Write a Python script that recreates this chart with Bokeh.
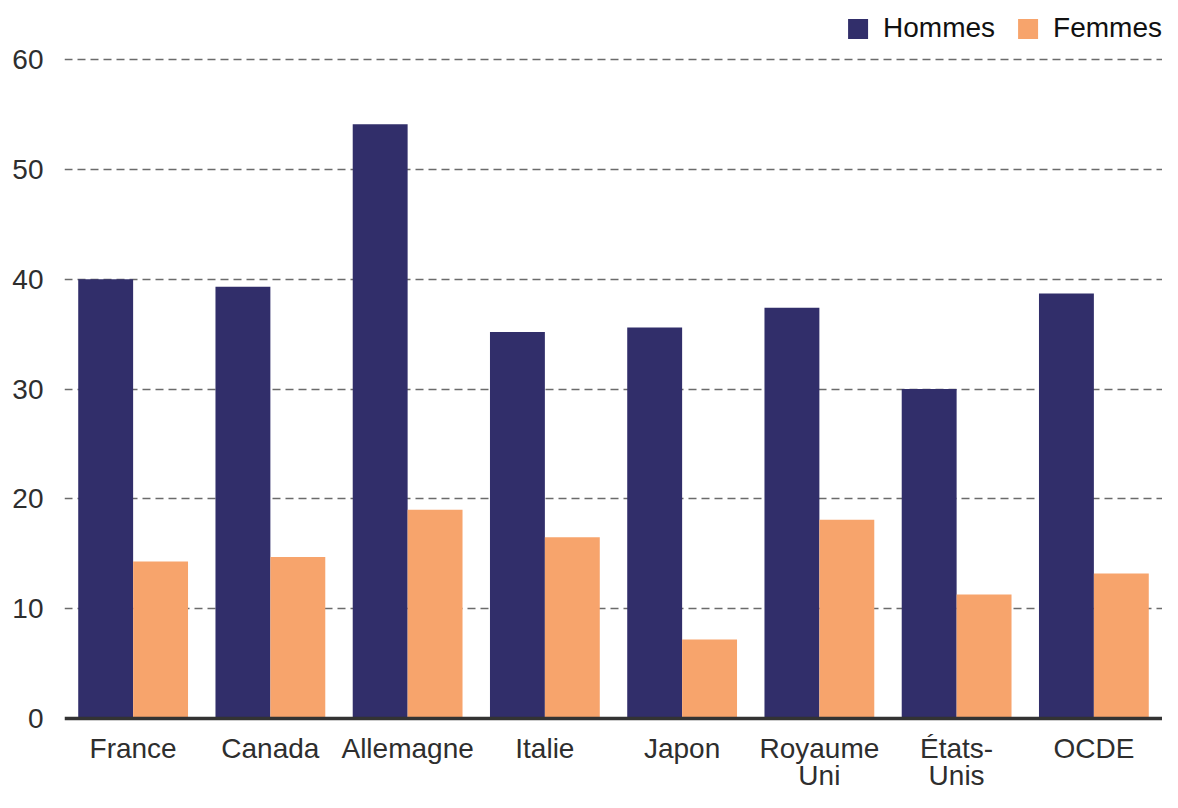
from bokeh.plotting import figure
from bokeh.models import ColumnDataSource, FactorRange, Range1d, FixedTicker, Legend, LegendItem, LabelSet, Span
from bokeh.core.properties import value
from bokeh.transform import dodge
from bokeh.embed import file_html
from bokeh.resources import INLINE

countries = ["France", "Canada", "Allemagne", "Italie", "Japon", "Royaume\nUni", "États-\nUnis", "OCDE"]
hommes = [40.0, 39.3, 54.1, 35.2, 35.6, 37.4, 30.0, 38.7]
femmes = [14.3, 14.7, 19.0, 16.5, 7.2, 18.1, 11.3, 13.2]
y_ticks = [0, 10, 20, 30, 40, 50, 60]

NAVY = "#312E6A"
ORANGE = "#F7A46C"
FONT = "Liberation Sans"

line1 = [c.split("\n")[0] for c in countries]
line2 = [c.split("\n")[1] if "\n" in c else "" for c in countries]

src = ColumnDataSource(dict(country=countries, hommes=hommes, femmes=femmes,
                            line1=line1, line2=line2, base=[0] * len(countries)))

p = figure(width=1162, height=792, output_backend="svg", toolbar_location=None,
           x_range=FactorRange(factors=countries, range_padding=0.0),
           y_range=Range1d(-6.738, 64.28),
           min_border_left=64, min_border_right=0, min_border_top=12, min_border_bottom=0)
p.outline_line_color = None
p.background_fill_color = "white"

r1 = p.vbar(x=dodge("country", -0.2, range=p.x_range), top="hommes", width=0.4, source=src,
            fill_color=NAVY, line_color=None)
r2 = p.vbar(x=dodge("country", 0.2, range=p.x_range), top="femmes", width=0.4, source=src,
            fill_color=ORANGE, line_color=None)

p.xgrid.grid_line_color = None
p.ygrid.ticker = FixedTicker(ticks=y_ticks[1:])
p.ygrid.grid_line_color = "#6b6b6b"
p.ygrid.grid_line_dash = "8 5"
p.ygrid.grid_line_width = 1.3

p.yaxis.ticker = FixedTicker(ticks=y_ticks)
p.yaxis.axis_line_color = None
p.yaxis.major_tick_line_color = None
p.yaxis.minor_tick_line_color = None
p.yaxis.major_label_text_font = FONT
p.yaxis.major_label_text_font_size = "28px"
p.yaxis.major_label_text_color = "#2e2e2e"
p.yaxis.major_label_standoff = 15

p.xaxis.visible = False
p.add_layout(Span(location=0, dimension="width", line_color="#333333", line_width=3.5))

common = dict(x="country", y="base", source=src, text_align="center", text_baseline="alphabetic",
              text_font=value(FONT), text_font_size=value("28px"), text_color="#2e2e2e")
p.add_layout(LabelSet(text="line1", y_offset=-40, **common))
p.add_layout(LabelSet(text="line2", y_offset=-67, **common))

legend = Legend(items=[LegendItem(label="Hommes", renderers=[r1]),
                       LegendItem(label="Femmes", renderers=[r2])],
                location="top_right", orientation="horizontal",
                margin=0, padding=0, spacing=20, label_standoff=13,
                glyph_width=25, glyph_height=25,
                label_text_font=FONT, label_text_font_size="28px", label_text_color="#111111",
                border_line_color=None, background_fill_alpha=0)
p.add_layout(legend, "center")

open("out.html", "w").write(file_html(p, INLINE))
